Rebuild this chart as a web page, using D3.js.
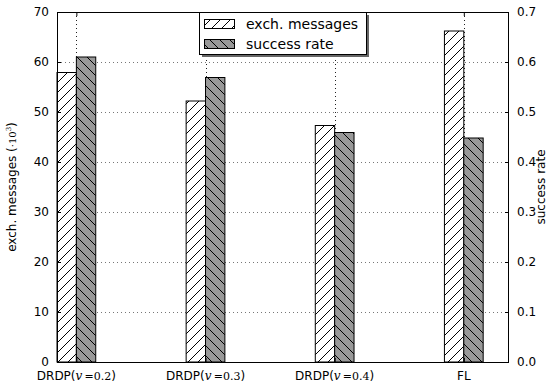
<!DOCTYPE html>
<html>
<head>
<meta charset="utf-8">
<script src="https://cdn.jsdelivr.net/npm/d3@7"></script>
<style>
  html, body { margin: 0; padding: 0; background: #fff; }
  svg { display: block; font-family: "DejaVu Sans", sans-serif; }
</style>
</head>
<body>
<svg id="chart" width="552" height="383"></svg>
<script>
// Protocol variants along the x axis
const categories = ["DRDP(v=0.2)", "DRDP(v=0.3)", "DRDP(v=0.4)", "FL"];
const categoryParams = ["0.2", "0.3", "0.4", null];
// Exchanged messages (x10^3), left axis
const messages = [57.9, 52.2, 47.3, 66.2];
// Success rate, right axis
const successRate = [0.61, 0.569, 0.459, 0.448];
const leftTicks = [0, 10, 20, 30, 40, 50, 60, 70];
const rightTicks = [0.0, 0.1, 0.2, 0.3, 0.4, 0.5, 0.6, 0.7];
const seriesNames = ["exch. messages", "success rate"];

const svg = d3.select("#chart");
const m = { left: 57, right: 509, top: 12, bottom: 362 };
const barW = 0.15;

const x = d3.scaleLinear().domain([-0.15, 3.35]).range([m.left, m.right]);
const yL = d3.scaleLinear().domain([0, 70]).range([m.bottom, m.top]);
const yR = d3.scaleLinear().domain([0, 0.7]).range([m.bottom, m.top]);

// Hatch patterns
const defs = svg.append("defs");
const hs = 10;
const fwd = defs.append("pattern").attr("id", "hatchFwd")
  .attr("patternUnits", "userSpaceOnUse").attr("width", hs).attr("height", hs);
fwd.append("rect").attr("width", hs).attr("height", hs).attr("fill", "#fff");
fwd.append("path").attr("d", `M0,${hs} L${hs},0 M-2,2 L2,-2 M${hs-2},${hs+2} L${hs+2},${hs-2}`)
  .attr("stroke", "#000").attr("stroke-width", 1);
const back = defs.append("pattern").attr("id", "hatchBack")
  .attr("patternUnits", "userSpaceOnUse").attr("width", hs).attr("height", hs);
back.append("rect").attr("width", hs).attr("height", hs).attr("fill", "#999");
back.append("path").attr("d", `M0,0 L${hs},${hs} M-2,${hs-2} L2,${hs+2} M${hs-2},-2 L${hs+2},2`)
  .attr("stroke", "#000").attr("stroke-width", 1);

// Grid lines
const grid = svg.append("g");
grid.selectAll("line.h").data(leftTicks.slice(1, -1)).join("line")
  .attr("x1", m.left).attr("x2", m.right)
  .attr("y1", d => Math.round(yL(d)) + 0.5).attr("y2", d => Math.round(yL(d)) + 0.5)
  .attr("stroke", "#777").attr("stroke-width", 1).attr("stroke-dasharray", "1,3");
grid.selectAll("line.v").data(categories).join("line")
  .attr("x1", (d, i) => Math.round(x(i)) + 0.5).attr("x2", (d, i) => Math.round(x(i)) + 0.5)
  .attr("y1", m.top).attr("y2", m.bottom)
  .attr("stroke", "#222").attr("stroke-width", 1).attr("stroke-dasharray", "1,3");

// Bars
const bars = svg.append("g");
bars.selectAll("rect.msg").data(messages).join("rect")
  .attr("x", (d, i) => x(i - barW)).attr("width", (d, i) => x(i) - x(i - barW))
  .attr("y", d => yL(d)).attr("height", d => yL(0) - yL(d))
  .attr("fill", "url(#hatchFwd)").attr("stroke", "#000").attr("stroke-width", 1);
bars.selectAll("rect.sr").data(successRate).join("rect")
  .attr("x", (d, i) => x(i)).attr("width", (d, i) => x(i + barW) - x(i))
  .attr("y", d => yR(d)).attr("height", d => yR(0) - yR(d))
  .attr("fill", "url(#hatchBack)").attr("stroke", "#000").attr("stroke-width", 1);

// Frame
svg.append("rect").attr("x", m.left + 0.5).attr("y", m.top + 0.5)
  .attr("width", m.right - m.left - 1).attr("height", m.bottom - m.top)
  .attr("fill", "none").attr("stroke", "#000").attr("stroke-width", 1);

// Axes (inward ticks)
const axL = d3.axisLeft(yL).tickValues(leftTicks).tickSize(-4).tickPadding(8).tickFormat(d3.format("d"));
const axR = d3.axisRight(yR).tickValues(rightTicks).tickSize(-4).tickPadding(8).tickFormat(d3.format(".1f"));
const axB = d3.axisBottom(x).tickValues([0, 1, 2, 3]).tickSize(-4).tickFormat("");
const axT = d3.axisTop(x).tickValues([0, 1, 2, 3]).tickSize(-4).tickFormat("");

function style(g) {
  g.select(".domain").remove();
  g.selectAll("text").attr("font-size", 12).attr("font-family", "DejaVu Sans, sans-serif").attr("fill", "#000");
  g.selectAll("line").attr("stroke", "#000");
}
svg.append("g").attr("transform", `translate(${m.left},0)`).call(axL).call(style);
svg.append("g").attr("transform", `translate(${m.right},0)`).call(axR).call(style);
svg.append("g").attr("transform", `translate(0,${m.bottom})`).call(axB).call(style);
svg.append("g").attr("transform", `translate(0,${m.top})`).call(axT).call(style);

// Category labels with an italic math parameter
const xl = svg.append("g");
categories.forEach((c, i) => {
  const t = xl.append("text").attr("x", x(i)).attr("y", 380)
    .attr("text-anchor", "middle").attr("font-size", 12).attr("fill", "#000");
  const p = categoryParams[i];
  if (p === null) {
    t.text(c);
  } else {
    t.append("tspan").text("DRDP(");
    t.append("tspan").attr("font-family", "DejaVu Serif, serif").attr("font-style", "italic").text("v");
    t.append("tspan").attr("font-family", "DejaVu Serif, serif").attr("font-size", 11).text("\u2009=" + p);
    t.append("tspan").text(")");
  }
});

// Axis titles
const lt = svg.append("text").attr("transform", `translate(16,187) rotate(-90)`)
  .attr("text-anchor", "middle").attr("font-size", 12).attr("fill", "#000");
lt.append("tspan").text("exch. messages (");
lt.append("tspan").attr("font-family", "DejaVu Serif, serif").attr("font-size", 10).text("\u00b710");
lt.append("tspan").attr("font-family", "DejaVu Serif, serif").attr("font-size", 7).attr("dy", -5).text("3");
lt.append("tspan").attr("dy", 5).text(")");

svg.append("text").attr("transform", `translate(545,187) rotate(-90)`)
  .attr("text-anchor", "middle").attr("font-size", 12).attr("fill", "#000").text("success rate");

// Legend
const lg = svg.append("g");
const lx = 199, ly = 12, lw = 167, lh = 42;
lg.append("rect").attr("x", lx + 3).attr("y", ly + 3).attr("width", lw).attr("height", lh).attr("fill", "#666");
lg.append("rect").attr("x", lx + 0.5).attr("y", ly + 0.5).attr("width", lw).attr("height", lh)
  .attr("fill", "#fff").attr("stroke", "#000").attr("stroke-width", 1);
const fills = ["url(#hatchFwd)", "url(#hatchBack)"];
seriesNames.forEach((s, i) => {
  const yy = ly + 7 + i * 20;
  lg.append("rect").attr("x", lx + 5.5).attr("y", yy + 0.5).attr("width", 30).attr("height", 9)
    .attr("fill", fills[i]).attr("stroke", "#000").attr("stroke-width", 1);
  lg.append("text").attr("x", lx + 47).attr("y", yy + 10).attr("font-size", 14).attr("fill", "#000").text(s);
});
</script>
</body>
</html>
